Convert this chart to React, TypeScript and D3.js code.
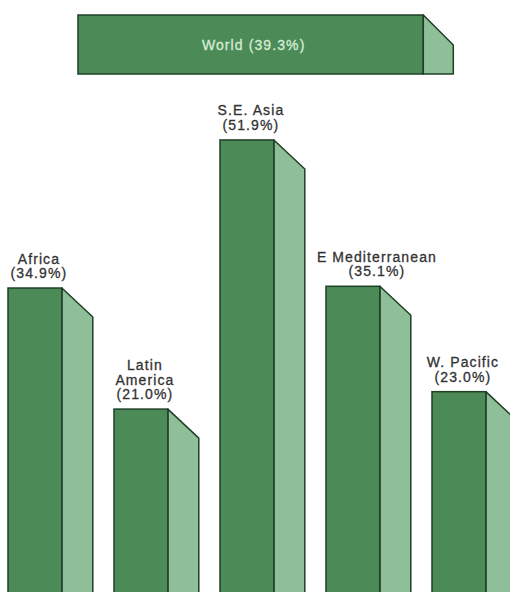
import React from "react";
import * as d3 from "d3";

const regions = ["Africa", "Latin America", "S.E. Asia", "E Mediterranean", "W. Pacific"];
const labelLines = [["Africa"], ["Latin", "America"], ["S.E. Asia"], ["E Mediterranean"], ["W. Pacific"]];
const values = [34.9, 21.0, 51.9, 35.1, 23.0];
const worldLabel = "World";
const worldValue = 39.3;

const W = 510;
const H = 592;
const FRONT = "#4c8b57";
const SIDE = "#8fbf98";
const EDGE = "#1f3f27";
const TEXT = "#333333";

export default function App() {
  const y = d3.scaleLinear().domain([0, 60]).range([H, H - 60 * 8.71]);
  const x = d3.scaleBand<string>().domain(regions).range([8, 8 + 106 * 4.8]).paddingInner(0.2).paddingOuter(0);
  const bw = x.bandwidth();
  const fw = bw * 0.635;
  const sw = bw - fw;
  const depth = 29;
  const k = 8.71;
  const wx = d3.scaleLinear().domain([0, 60]).range([78, 78 + 60 * k]);
  const wTop = 15;
  const wBot = 74;
  const wx1 = wx(worldValue) + 3;
  const labelDx: Record<string, number> = { "E Mediterranean": 20 };
  const font = "'Liberation Sans', Arial, Helvetica, sans-serif";

  return (
    <svg width={W} height={H} style={{ position: "absolute", left: 0, top: 0, background: "#fff" }}>
      <g>
        <rect x={wx(0)} y={wTop} width={wx1 - wx(0)} height={wBot - wTop} fill={FRONT} stroke={EDGE} strokeWidth={1.5} />
        <path
          d={`M${wx1},${wTop}L${wx1 + 30},${wTop + 30}L${wx1 + 30},${wBot}L${wx1},${wBot}Z`}
          fill={SIDE}
          stroke={EDGE}
          strokeWidth={1.5}
          strokeLinejoin="round"
        />
        <text
          x={(wx(0) + wx1) / 2 + 3}
          y={(wTop + wBot) / 2 + 5}
          textAnchor="middle"
          fontFamily={font}
          fontSize={14}
          letterSpacing={1.1}
          fill="#d6ecd6"
          stroke="#d6ecd6"
          strokeWidth={0.3}
        >
          {`${worldLabel} (${worldValue.toFixed(1)}%)`}
        </text>
      </g>
      {regions.map((r, i) => {
        const x0 = x(r)!;
        const top = y(values[i]);
        const xr = x0 + fw;
        const lines = [...labelLines[i], `(${values[i].toFixed(1)}%)`];
        const cx = x0 + fw / 2 + 4 + (labelDx[r] || 0);
        const lastBase = top - 10;
        return (
          <g key={r}>
            <path
              d={`M${xr},${top}L${xr + sw},${top + depth}L${xr + sw},${H + 2}L${xr},${H + 2}Z`}
              fill={SIDE}
              stroke={EDGE}
              strokeWidth={1.5}
              strokeLinejoin="round"
            />
            <rect x={x0} y={top} width={fw} height={H - top + 2} fill={FRONT} stroke={EDGE} strokeWidth={1.5} />
            {lines.map((t, j) => (
              <text
                key={j}
                x={cx}
                y={lastBase - (lines.length - 1 - j) * 14.5}
                textAnchor="middle"
                fontFamily={font}
                fontSize={14}
                letterSpacing={1.1}
                fill={TEXT}
                stroke={TEXT}
                strokeWidth={0.3}
              >
                {t}
              </text>
            ))}
          </g>
        );
      })}
    </svg>
  );
}
